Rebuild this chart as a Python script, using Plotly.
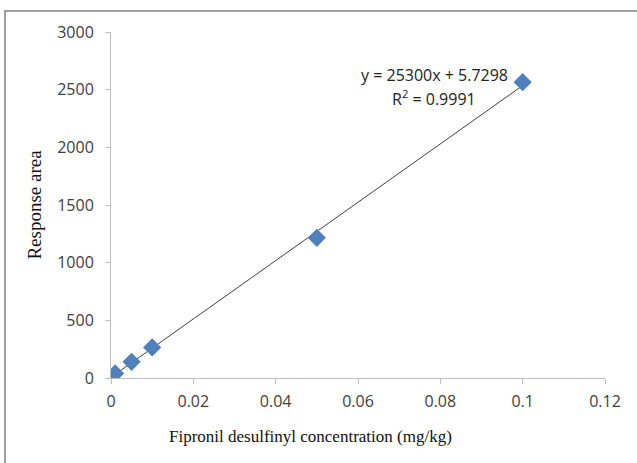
import plotly.graph_objects as go

conc = [0.001, 0.005, 0.01, 0.05, 0.1]
area = [40, 140, 265, 1215, 2565]
slope = 25300
intercept = 5.7298
r2 = 0.9991
x_ticks = [0, 0.02, 0.04, 0.06, 0.08, 0.1, 0.12]
x_tick_labels = ["0", "0.02", "0.04", "0.06", "0.08", "0.1", "0.12"]
y_ticks = [0, 500, 1000, 1500, 2000, 2500, 3000]

fit_x = [min(conc), max(conc)]
fit_y = [slope * v + intercept for v in fit_x]

fig = go.Figure()
fig.add_trace(go.Scatter(x=fit_x, y=fit_y, mode="lines",
                         line=dict(color="#404040", width=1), hoverinfo="skip"))
fig.add_trace(go.Scatter(x=conc, y=area, mode="markers",
                         marker=dict(symbol="diamond", size=14, color="#4F81BD",
                                     line=dict(width=0))))

tick_font = dict(family="Liberation Sans Narrow, Open Sans, sans-serif", size=16, color="#404040")
title_font = dict(family="Liberation Serif, Times New Roman, serif", size=18, color="#111111")
eq_font = dict(family="Liberation Sans Narrow, Open Sans, sans-serif", size=16, color="#222222")

fig.update_layout(
    width=637, height=463,
    margin=dict(l=111, r=32, t=32, b=85),
    paper_bgcolor="white", plot_bgcolor="white",
    showlegend=False,
    xaxis=dict(range=[0, 0.12], tickvals=x_ticks, ticktext=x_tick_labels,
               showgrid=False, zeroline=False, showline=True, linecolor="#BFBFBF",
               linewidth=1, ticks="outside", ticklen=5, tickcolor="#BFBFBF",
               tickfont=tick_font, ticklabelstandoff=4),
    yaxis=dict(range=[0, 3000], tickvals=y_ticks,
               showgrid=False, zeroline=False, showline=True, linecolor="#BFBFBF",
               linewidth=1, ticks="outside", ticklen=5, tickcolor="#BFBFBF",
               tickfont=tick_font, ticklabelstandoff=8,
               title=dict(text="Response area", font=dict(title_font, size=19), standoff=10)),
    font=tick_font,
)

fig.add_annotation(x=(310 - 111) / 494, y=(378 - 437) / 346, xref="paper", yref="paper",
                   text="Fipronil desulfinyl concentration (mg/kg)", showarrow=False,
                   xanchor="center", yanchor="middle", font=dict(title_font, size=17))

fig.add_annotation(x=0.0785, y=2627, xref="x", yref="y",
                   text=f"y = {slope}x + {intercept}",
                   showarrow=False, align="center", font=eq_font)
fig.add_annotation(x=0.0785, y=2430, xref="x", yref="y",
                   text=f"R<sup>2</sup> = {r2}",
                   showarrow=False, align="center", font=eq_font)

fig.add_shape(type="rect", xref="paper", yref="paper",
              x0=(5 - 111) / 494, x1=(660 - 111) / 494,
              y0=(378 - 480) / 346, y1=(378 - 11) / 346,
              line=dict(color="#808080", width=1.5), fillcolor="rgba(0,0,0,0)", layer="below")

fig.write_html("out.html", config={"displayModeBar": False},
               post_script="document.body.style.margin='0';")
